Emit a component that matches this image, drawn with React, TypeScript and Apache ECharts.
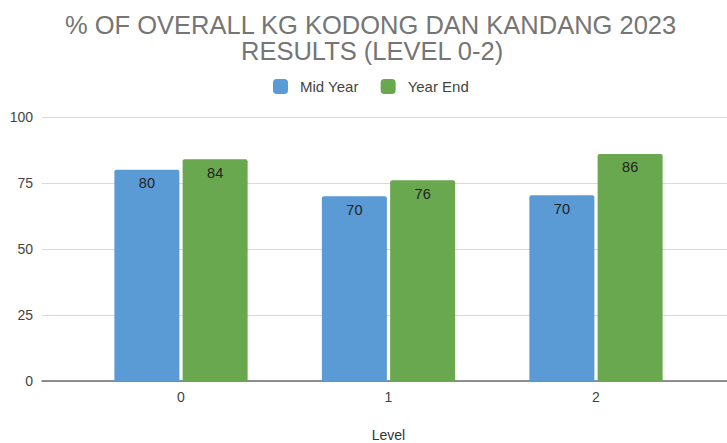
import React, { useEffect, useRef } from "react";
import * as echarts from "echarts";

const categories = ["0", "1", "2"];
const midYear = [80, 70, 70.4];
const yearEnd = [84, 76, 86];
const yTicks = { min: 0, max: 100, interval: 25 };
const titleLine1 = "% OF OVERALL KG KODONG DAN KANDANG 2023";
const titleLine2 = "RESULTS (LEVEL 0-2)";

export default function App() {
  const ref = useRef<HTMLDivElement>(null);
  useEffect(() => {
    const chart = echarts.init(ref.current!, null, { renderer: "svg" });
    const font = "'Liberation Sans', Arial, sans-serif";
    const titleStyle = { fontSize: 25.5, fontWeight: "normal", color: "#757575", lineHeight: 23, fontFamily: font };
    const barLabel = {
      show: true,
      position: "insideTop",
      distance: 6,
      fontSize: 14.5,
      color: "#222",
      fontFamily: font,
      formatter: (p: any) => String(Math.round(p.value)),
    };
    chart.setOption({
      animation: false,
      backgroundColor: "#ffffff",
      title: [
        { text: titleLine1, left: 60, top: 8, textStyle: titleStyle },
        { text: titleLine2, left: 236, top: 34.5, textStyle: titleStyle },
      ],
      legend: {
        top: 74,
        left: 268,
        icon: "roundRect",
        itemWidth: 15,
        itemHeight: 15,
        itemGap: 22,
        textStyle: { fontSize: 15, color: "#444", fontFamily: font, padding: [0, 0, 0, 7] },
        data: ["Mid Year", "Year End"],
      },
      grid: [
        { left: 42, right: 0, top: 117, bottom: 62, outerBoundsMode: "none" },
        { left: 77.25, right: 27.25, top: 117, bottom: 62, outerBoundsMode: "none" },
      ],
      xAxis: [
        {
          type: "value",
          gridIndex: 0,
          min: 0,
          max: 1,
          axisLine: { show: true, lineStyle: { color: "#6e6e6e", width: 1.5 } },
          axisTick: { show: false },
          axisLabel: { show: false },
          splitLine: { show: false },
        },
        {
          type: "category",
          gridIndex: 1,
          data: categories,
          axisLine: { show: false },
          axisTick: { show: false },
          axisLabel: { fontSize: 14, color: "#444", margin: 9, fontFamily: font },
          name: "Level",
          nameLocation: "middle",
          nameGap: 47,
          nameTextStyle: { fontSize: 14, color: "#333", fontFamily: font },
        },
      ],
      yAxis: [
        {
          type: "value",
          gridIndex: 0,
          min: yTicks.min,
          max: yTicks.max,
          interval: yTicks.interval,
          axisLine: { show: false },
          axisTick: { show: false },
          axisLabel: { fontSize: 14, color: "#444", margin: 9, fontFamily: font },
          splitLine: { lineStyle: { color: "#d9d9d9", width: 1 } },
        },
        {
          type: "value",
          gridIndex: 1,
          min: yTicks.min,
          max: yTicks.max,
          interval: yTicks.interval,
          show: false,
          splitLine: { show: false },
        },
      ],
      series: [
        {
          name: "Mid Year",
          type: "bar",
          xAxisIndex: 1,
          yAxisIndex: 1,
          data: midYear,
          barWidth: 65,
          barGap: "5%",
          itemStyle: { color: "#5b9bd5", borderRadius: [2, 2, 0, 0] },
          label: barLabel,
        },
        {
          name: "Year End",
          type: "bar",
          xAxisIndex: 1,
          yAxisIndex: 1,
          data: yearEnd,
          barWidth: 65,
          barGap: "5%",
          itemStyle: { color: "#6aa84f", borderRadius: [2, 2, 0, 0] },
          label: barLabel,
        },
      ],
    });
    return () => chart.dispose();
  }, []);
  return <div ref={ref} style={{ width: 727, height: 443, position: "absolute", left: 0, top: 0 }} />;
}
